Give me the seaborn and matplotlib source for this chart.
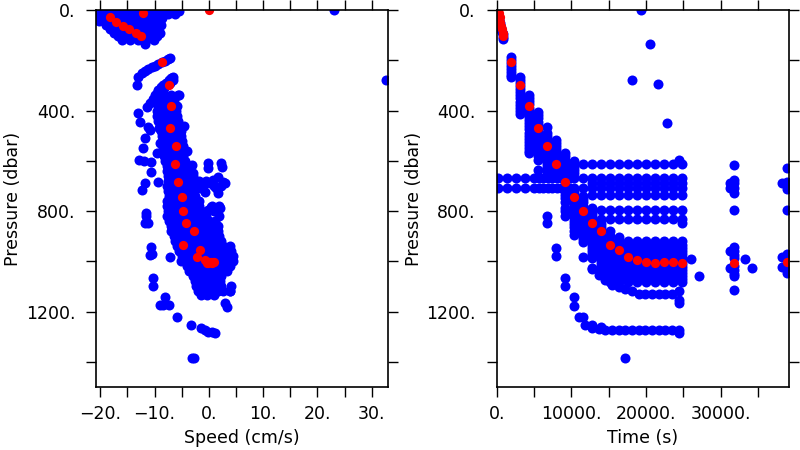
import matplotlib
matplotlib.use("Agg")
import matplotlib.pyplot as plt
from matplotlib.ticker import MultipleLocator, FuncFormatter
import seaborn as sns
import pandas as pd

# ---------------- LEFT PANEL DATA: speed (cm/s) vs pressure (dbar) ----------------
# dense top cluster, rows of (pressure, [speeds])
left_top_rows = [
    (3, [-20.2, -19.0, -17.5, -16.0, -14.5, -13.0, -11.5, -10.0, -8.5, -7.0, -5.5]),
    (15, [-20.5, -19.5, -18.0, -16.5, -15.0, -13.5, -12.0, -10.5, -9.0, -7.5, -6.2]),
    (30, [-20.0, -18.5, -17.0, -15.5, -14.0, -12.5, -11.0, -9.5, -8.6]),
    (45, [-20.3, -19.0, -17.5, -16.0, -14.5, -13.0, -11.5, -10.0, -9.0]),
    (60, [-19.0, -17.5, -16.0, -14.5, -13.0, -11.5, -10.0, -8.9]),
    (75, [-18.2, -16.8, -15.3, -13.8, -12.3, -10.8, -9.3]),
    (90, [-17.4, -16.0, -14.5, -13.0, -11.5, -10.0, -9.1]),
    (105, [-16.8, -15.3, -13.8, -12.3, -10.8, -9.6]),
    (118, [-16.0, -14.5, -13.0, -11.5, -10.2]),
    (136, [-11.7]),
]
# main descending column, rows of (pressure, [speeds])
left_column_rows = [
    (340, [-8.2, -7.0, -5.6]),
    (360, [-8.8, -7.6, -6.4]),
    (380, [-9.4, -8.2, -7.0, -5.9]),
    (400, [-9.6, -8.4, -7.2, -6.0]),
    (420, [-9.5, -8.3, -7.1, -5.9]),
    (440, [-9.3, -8.1, -6.9, -5.7]),
    (460, [-9.0, -7.8, -6.6, -5.4, -4.6]),
    (480, [-8.8, -7.6, -6.4, -5.2]),
    (500, [-8.7, -7.5, -6.3, -5.1]),
    (520, [-8.5, -7.3, -6.1, -4.9]),
    (540, [-8.4, -7.2, -6.0, -4.8]),
    (560, [-8.6, -7.4, -6.2, -5.0, -4.0]),
    (580, [-8.3, -7.1, -5.9, -4.7]),
    (600, [-8.0, -6.8, -5.6, -4.4]),
    (620, [-7.8, -6.6, -5.4, -4.2]),
    (640, [-7.7, -6.5, -5.3, -4.1]),
    (660, [-7.6, -6.4, -5.2, -4.0, -2.9]),
    (680, [-7.5, -6.3, -5.1, -3.9, -2.8]),
    (700, [-7.7, -6.5, -5.3, -4.1, -2.9]),
    (720, [-7.5, -6.3, -5.1, -3.9, -2.7]),
    (740, [-7.4, -6.2, -5.0, -3.8, -2.6]),
    (760, [-7.8, -6.6, -5.4, -4.2, -3.0, -1.8]),
    (780, [-7.8, -6.6, -5.4, -4.2, -3.0, -1.8, 0.6, 1.9]),
    (800, [-7.5, -6.3, -5.1, -3.9, -2.7, -1.5, -0.3, 1.0]),
    (820, [-7.8, -6.6, -5.4, -4.2, -3.0, -1.8, -0.6, 1.8]),
    (840, [-7.3, -6.1, -4.9, -3.7, -2.5, -1.3, 0.0, 1.2]),
    (860, [-7.0, -5.8, -4.6, -3.4, -2.2, -1.0, 0.3, 1.6]),
    (880, [-6.9, -5.7, -4.5, -3.3, -2.1, -0.9, 0.4, 1.6]),
    (900, [-6.5, -5.3, -4.1, -2.9, -1.7, -0.5, 0.7, 1.9]),
    (920, [-6.2, -5.0, -3.8, -2.6, -1.4, -0.2, 1.0, 2.2]),
    (940, [-5.8, -4.6, -3.4, -2.2, -1.0, 0.2, 1.4, 2.6, 3.8]),
    (960, [-5.5, -4.3, -3.1, -1.9, -0.7, 0.5, 1.7, 2.9, 4.1]),
    (980, [-5.0, -3.8, -2.6, -1.4, -0.2, 1.0, 2.2, 3.4, 4.4]),
    (1000, [-4.5, -3.3, -2.1, -0.9, 0.3, 1.5, 2.7, 3.9, 4.5]),
    (1020, [-4.1, -2.9, -1.7, -0.5, 0.7, 1.9, 3.1, 3.8]),
    (1040, [-3.6, -2.4, -1.2, 0.0, 1.2, 2.4, 3.3]),
    (1060, [-3.0, -1.8, -0.6, 0.6, 1.8, 2.3]),
    (1080, [-2.6, -1.4, -0.2, 1.0, 2.0]),
    (1100, [-2.3, -1.1, 0.1, 1.3, 2.3, 4.0]),
    (1120, [-2.0, -0.8, 0.4, 1.6, 2.6, 3.9]),
    (1133, [-1.5, -0.3, 0.9]),
]
# isolated points (speed, pressure)
left_bands = [(-13.3, 298), (-13.1, 265), (-12.4, 252), (-11.8, 243), (-11.2, 235),
              (-10.5, 227), (-9.9, 221), (-9.3, 214), (-8.7, 208), (-8.0, 202),
              (-7.5, 196), (-7.1, 190), (-11.4, 385), (-10.9, 371), (-10.3, 355),
              (-9.9, 340), (-9.3, 320), (-8.8, 308), (-8.4, 298), (-7.9, 290),
              (-7.3, 280), (-6.9, 272), (-6.6, 266), (-9.5, 330), (-8.8, 322),
              (-8.2, 312), (-7.7, 300), (-7.1, 290), (-6.7, 280), (-5.5, 338),
              (-10.0, 362)]
left_scatter = [(-13.0, 411), (-12.7, 444), (-11.2, 464), (-10.9, 477), (-11.8, 510),
                (-12.1, 550), (-12.8, 597), (-12.0, 599), (-10.6, 603), (-10.6, 643),
                (-11.8, 689), (-12.4, 716), (-9.3, 683), (-9.2, 471), (-9.6, 570),
                (-9.0, 530), (-11.5, 809)]
left_right_cluster = [(-0.1, 610), (-0.1, 630), (2.3, 610), (2.4, 625), (-2.9, 650),
                      (-3.2, 617), (-1.8, 680), (-0.5, 682), (0.8, 678), (1.7, 663),
                      (2.6, 683), (3.0, 690), (-1.6, 708), (-0.7, 725), (1.4, 708),
                      (1.7, 729), (2.2, 700), (0.2, 690), (2.0, 789), (-0.1, 795),
                      (0.3, 783), (-2.3, 775), (1.0, 700), (-1.0, 700)]
left_deep = [(-11.6, 819), (-11.8, 848), (-11.2, 848), (-10.6, 941), (-10.9, 974),
             (-10.4, 972), (-7.2, 984), (-5.2, 997), (-10.3, 1067), (-10.3, 1098),
             (-8.1, 1140), (-9.0, 1173), (-7.3, 1175), (-8.5, 1172), (-5.8, 1222),
             (-3.3, 1253), (-1.5, 1265), (-0.8, 1275), (-0.2, 1283), (0.6, 1280),
             (1.1, 1285), (-3.2, 1385), (-2.8, 1385), (2.9, 1164), (3.9, 1120),
             (3.4, 1180)]
left_outliers = [(23.1, 0), (32.6, 278)]

# ---------------- RED (matching) points, shared pressures ----------------
red_pressure = [0, 13, 29, 46, 62, 77, 90, 103, 208, 298, 380, 468, 540, 614, 683,
                743, 799, 848, 881, 937, 956, 984, 994, 1001, 1005, 1003, 1002, 1008,
                1005, 1002]
red_speed = [0.0, -12.1, -18.2, -17.1, -15.8, -14.7, -13.5, -12.5, -8.6, -7.4, -6.9,
             -7.2, -6.1, -6.3, -5.7, -5.0, -4.8, -4.2, -2.7, -4.7, -1.7, -2.2, -0.8,
             0.1, -0.4, 0.8, 0.3, 0.6, -0.2, 0.9]
red_time = [120, 250, 380, 500, 620, 700, 780, 850, 1880, 3080, 4290, 5490, 6700,
            7910, 9110, 10320, 11530, 12730, 13940, 15140, 16350, 17560, 18760, 19970,
            21170, 22380, 23590, 24790, 31850, 38860]

# ---------------- RIGHT PANEL DATA: time (s) vs pressure (dbar) ----------------
right_streak_t = [0, 80, 150, 220, 290, 360, 430, 500, 570, 640, 710, 780, 850, 900]
right_streak_p = [0, 8, 16, 25, 34, 43, 52, 61, 70, 79, 88, 97, 106, 116]
# descending columns (time, [pressures])
right_columns = [
    (1880, [186, 198, 210, 222, 235, 248, 260, 268]),
    (3080, [265, 278, 290, 302, 315, 328, 340, 352, 365, 378, 390, 402, 415]),
    (4290, [338, 350, 362, 375, 388, 400, 412, 425, 438, 450, 462, 475, 488, 500, 512,
            525, 538, 550, 562, 570]),
    (5490, [404, 416, 430, 444, 456, 470, 482, 495, 508, 520, 532, 545, 558, 570, 582,
            596, 636]),
    (6700, [464, 488, 500, 512, 525, 538, 550, 562, 575, 588, 600, 612, 625, 640, 655,
            818, 848]),
    (7910, [517, 530, 542, 555, 568, 580, 592, 605, 618, 630, 642, 655, 945, 977]),
    (9110, [570, 582, 595, 608, 620, 632, 645, 658, 720, 735, 750, 762, 786, 800, 818,
            1066, 1098]),
    (10320, [600, 612, 625, 638, 650, 725, 738, 750, 762, 775, 788, 800, 812, 825, 838,
             850, 862, 880, 895, 1140, 1177]),
    (11530, [612, 740, 752, 765, 778, 790, 812, 825, 838, 850, 862, 875, 888, 900, 912,
             925, 984, 1222]),
    (12730, [612, 690, 735, 786, 800, 812, 825, 838, 860, 872, 885, 898, 910, 922, 935,
             948, 960, 972, 986, 1030, 1253]),
    (13940, [612, 690, 735, 795, 832, 850, 862, 875, 895, 908, 920, 932, 945, 958, 970,
             982, 995, 1008, 1020, 1035, 1050, 1263]),
    (15140, [880, 900]),
    (16350, [905]),
]
late_col_times = [15140, 16350, 17560, 18760, 19970, 21170, 22380, 23590, 24790]
late_col_pres = [612, 690, 735, 795, 832, 921, 935, 948, 960, 972, 985, 998, 1010,
                 1022, 1035, 1048, 1060, 1072, 1084]
# horizontal rows (pressure, [times])
right_rows = [
    (670, [215, 1420, 2630, 3830, 5040, 5650, 6250, 6850, 7450, 8050, 8660, 9260, 9870,
           10320, 11530, 12730, 13940, 15140, 16350, 17560, 18760, 19970, 21170, 22380,
           23590, 24790]),
    (710, [215, 1420, 2630, 3830, 5040, 5650, 6250, 6850, 7450, 8050, 8660, 9260, 9870,
           10320, 11530, 12730, 13940, 15140, 16350, 17560, 18760, 19970, 21170, 22380,
           23590, 24790]),
    (846, [24790]),
    (598, [24500]),
]
# deeper instruments
deep_bottom_t = [10990, 11870, 12770, 13660, 14560, 15450, 16350, 17250, 18150, 19040,
                 19940, 20830, 21730, 22620, 23520, 24420, 24470]
deep_bottom_p = [1222, 1253, 1266, 1270, 1272, 1275, 1275, 1272, 1275, 1275, 1275,
                 1275, 1275, 1275, 1275, 1275, 1286]
deep_tail_t = [12770, 13670, 14560, 15450, 16350, 17250, 18150, 19040, 19940, 20830,
               21730, 22620, 23520, 24420, 24470, 24470]
deep_tail_p = [1027, 1054, 1074, 1094, 1103, 1111, 1120, 1128, 1131, 1131, 1131, 1131,
               1131, 1120, 1153, 1167]
# late clusters and outliers (time, pressure)
right_late = [(31850, 616), (31850, 676), (31850, 690), (31850, 708), (31850, 729),
              (31850, 795), (31850, 941), (31850, 960), (31850, 975), (31850, 985),
              (31850, 1020), (31850, 1035), (31850, 1050), (31850, 1060), (31850, 1113),
              (31300, 690), (31300, 708), (31300, 960), (31300, 1025), (26040, 991),
              (27150, 1060), (33260, 991), (34250, 1025),
              (38860, 630), (38860, 686), (38860, 700), (38860, 713), (38860, 795),
              (38860, 970), (38860, 985), (38860, 1015), (38860, 1030), (38860, 1045),
              (38300, 690), (38300, 984), (38300, 1021)]
right_outliers = [(0, 0), (19290, 0), (20540, 137), (18170, 278), (21660, 294),
                  (22860, 451), (17240, 1385)]

# ---------------- build tables ----------------
ls, lp = [], []
for rows in (left_top_rows, left_column_rows):
    for p, speeds in rows:
        for s in speeds:
            ls.append(s)
            lp.append(p)
for pts in (left_bands, left_scatter, left_right_cluster, left_deep, left_outliers):
    for s, p in pts:
        ls.append(s)
        lp.append(p)
left_blue = pd.DataFrame({"speed": ls, "pressure": lp})

rt, rp = list(right_streak_t), list(right_streak_p)
for t, ps in right_columns:
    for p in ps:
        rt.append(t)
        rp.append(p)
for t in late_col_times:
    for p in late_col_pres:
        rt.append(t)
        rp.append(p)
for p, ts in right_rows:
    for t in ts:
        rt.append(t)
        rp.append(p)
rt += deep_bottom_t + deep_tail_t
rp += deep_bottom_p + deep_tail_p
for t, p in right_late + right_outliers:
    rt.append(t)
    rp.append(p)
right_blue = pd.DataFrame({"time": rt, "pressure": rp})
red = pd.DataFrame({"speed": red_speed, "time": red_time, "pressure": red_pressure})

# ---------------- plotting ----------------
sns.set_style("ticks")
plt.rcParams["font.family"] = ["DejaVu Sans"]
plt.rcParams["axes.unicode_minus"] = True
plt.rcParams["text.color"] = "black"
plt.rcParams["axes.labelcolor"] = "black"
plt.rcParams["xtick.color"] = "black"
plt.rcParams["ytick.color"] = "black"

fig = plt.figure(figsize=(8, 4.5), dpi=100)
axL = fig.add_axes([96 / 800, 63 / 450, 292 / 800, 377 / 450])
axR = fig.add_axes([496.7 / 800, 63 / 450, 292.3 / 800, 377 / 450])

BLUE, RED = "#0000FF", "#FF0000"
sz_b, sz_r = 52, 44

sns.scatterplot(data=left_blue, x="speed", y="pressure", ax=axL, color=BLUE,
                s=sz_b, linewidth=0, legend=False)
sns.scatterplot(data=red, x="speed", y="pressure", ax=axL, color=RED,
                s=sz_r, linewidth=0, legend=False)
sns.scatterplot(data=right_blue, x="time", y="pressure", ax=axR, color=BLUE,
                s=sz_b, linewidth=0, legend=False)
sns.scatterplot(data=red, x="time", y="pressure", ax=axR, color=RED,
                s=sz_r, linewidth=0, legend=False)


def fmt_every(step):
    def f(v, pos):
        if abs(v / step - round(v / step)) > 1e-6:
            return ""
        s = f"{abs(v):.0f}."
        return ("\u2212" + s) if v < -1e-9 else s
    return FuncFormatter(f)


FS = 12.5
for ax in (axL, axR):
    ax.set_ylim(1500, 0)
    ax.yaxis.set_major_locator(MultipleLocator(200))
    ax.yaxis.set_major_formatter(fmt_every(400))
    ax.tick_params(axis="both", which="major", direction="out", length=7.5,
                   width=1.0, color="black", labelcolor="black", labelsize=FS,
                   top=True, right=True, labeltop=False, labelright=False)
    ax.tick_params(axis="y", pad=7.5)
    ax.tick_params(axis="x", pad=5.5)
    for sp in ax.spines.values():
        sp.set_visible(True)
        sp.set_linewidth(1.2)
        sp.set_color("black")
    ax.set_ylabel("Pressure (dbar)", fontsize=FS, va="center", color="black")
    ax.yaxis.set_label_coords(-0.284, 0.5)

axL.set_xlim(-20.8, 33.0)
axL.xaxis.set_major_locator(MultipleLocator(5))
axL.xaxis.set_major_formatter(fmt_every(10))
axL.set_xlabel("Speed (cm/s)", fontsize=FS, va="center", color="black")
axL.xaxis.set_label_coords(0.5, -0.135)

axR.set_xlim(0, 39180)
axR.xaxis.set_major_locator(MultipleLocator(5000))
axR.xaxis.set_major_formatter(fmt_every(10000))
axR.set_xlabel("Time (s)", fontsize=FS, va="center", color="black")
axR.xaxis.set_label_coords(0.5, -0.135)

fig.savefig("out.png", dpi=100)
